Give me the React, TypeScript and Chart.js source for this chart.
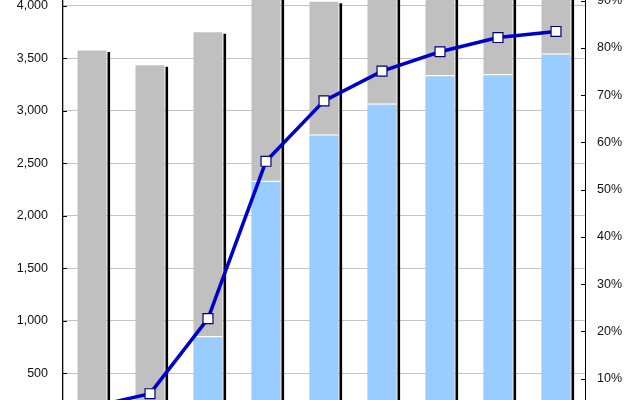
import { useEffect, useRef } from 'react';
import { Chart, registerables } from 'chart.js';

Chart.register(...registerables);

// Periods along the x axis (labels are not shown on this view)
const categories = ['1', '2', '3', '4', '5', '6', '7', '8', '9'];
// Total count per period (grey bars)
const totals = [3575, 3435, 3750, 4170, 4040, 4090, 4220, 4080, 4250];
// Covered part of the total (blue bars)
const covered = [143, 234, 856, 2336, 2778, 3073, 3343, 3352, 3550];
// Coverage rate per period (line, right axis)
const rates = [0.04, 0.068, 0.227, 0.56, 0.688, 0.751, 0.792, 0.822, 0.835];

const countMax = 4500;
const countStep = 500;
const rateMax = 1;
const rateStep = 0.1;

const FONT = { family: '"Liberation Sans", Arial, sans-serif', size: 12.5 };

const TOTAL_INDEX = 2;

// Black drop shadow to the right of every grey bar
const barShadow = {
  id: 'barShadow',
  beforeDatasetsDraw(chart: any) {
    const meta = chart.getDatasetMeta(TOTAL_INDEX);
    const ctx = chart.ctx;
    ctx.save();
    ctx.fillStyle = '#000';
    meta.data.forEach((bar: any) => {
      const p = bar.getProps(['x', 'y', 'base', 'width'], true);
      const right = p.x + p.width / 2;
      ctx.fillRect(right + 1, p.y + 1.5, 2.6, p.base - p.y - 1.5);
    });
    ctx.restore();
  },
};

// Short tick marks pointing into the plot area on both value axes
const innerTicks = {
  id: 'innerTicks',
  afterDatasetsDraw(chart: any) {
    const { ctx, chartArea, scales } = chart;
    ctx.save();
    ctx.strokeStyle = '#000';
    ctx.lineWidth = 1;
    scales.y.ticks.forEach((t: any) => {
      const py = Math.round(scales.y.getPixelForValue(t.value)) + 0.5;
      ctx.beginPath();
      ctx.moveTo(chartArea.left, py);
      ctx.lineTo(chartArea.left + 4, py);
      ctx.stroke();
    });
    scales.y1.ticks.forEach((t: any) => {
      const py = Math.round(scales.y1.getPixelForValue(t.value)) + 0.5;
      ctx.beginPath();
      ctx.moveTo(chartArea.right - 4, py);
      ctx.lineTo(chartArea.right, py);
      ctx.stroke();
    });
    ctx.restore();
  },
};

const fitAxis = (width: number) => (s: any) => {
  s.width = width;
  s.paddingTop = 0;
  s.paddingBottom = 0;
};

export default function App() {
  const canvasRef = useRef<HTMLCanvasElement | null>(null);

  useEffect(() => {
    if (!canvasRef.current) return;
    const chart = new Chart(canvasRef.current, {
      type: 'bar',
      data: {
        labels: categories,
        datasets: [
          {
            type: 'line',
            data: rates,
            yAxisID: 'y1',
            order: 0,
            borderColor: '#0000CC',
            borderWidth: 3.5,
            tension: 0,
            pointStyle: 'rect',
            pointRadius: 7,
            pointBackgroundColor: '#fff',
            pointBorderColor: '#000080',
            pointBorderWidth: 1.2,
          },
          {
            type: 'bar',
            data: covered,
            yAxisID: 'y',
            order: 1,
            grouped: false,
            backgroundColor: '#99CCFF',
            borderColor: '#fff',
            borderWidth: { top: 1.5, right: 0, bottom: 0, left: 0 },
            categoryPercentage: 1,
            barPercentage: 0.5,
          },
          {
            type: 'bar',
            data: totals,
            yAxisID: 'y',
            order: 2,
            grouped: false,
            backgroundColor: '#C0C0C0',
            categoryPercentage: 1,
            barPercentage: 0.5,
          },
        ] as any,
      },
      options: {
        animation: false,
        responsive: false,
        layout: { padding: { top: 13.5, bottom: 14.2, left: 0, right: 0 } },
        plugins: { legend: { display: false }, tooltip: { enabled: false } },
        scales: {
          x: { display: false },
          y: {
            position: 'left',
            min: 0,
            max: countMax,
            afterFit: fitAxis(63),
            ticks: {
              stepSize: countStep,
              padding: 15,
              color: '#111',
              font: FONT,
              callback: (v: any) => Number(v).toLocaleString('en-US'),
            },
            grid: { color: '#C4C4C4', lineWidth: 1, drawTicks: false },
            border: { color: '#000', width: 1.3 },
          },
          y1: {
            position: 'right',
            min: 0,
            max: rateMax,
            afterFit: fitAxis(55),
            ticks: {
              stepSize: rateStep,
              padding: 12,
              color: '#111',
              font: FONT,
              callback: (v: any) => Math.round(Number(v) * 100) + '%',
            },
            grid: { drawOnChartArea: false, drawTicks: false },
            border: { color: '#000', width: 1 },
          },
        },
      },
      plugins: [barShadow, innerTicks],
    });
    return () => chart.destroy();
  }, []);

  return (
    <div
      style={{
        position: 'fixed',
        left: 0,
        top: 0,
        width: 640,
        height: 400,
        overflow: 'hidden',
        background: '#fff',
      }}
    >
      <div style={{ position: 'absolute', left: 0, top: -60, width: 640, height: 500 }}>
        <canvas ref={canvasRef} width={640} height={500} />
      </div>
    </div>
  );
}
